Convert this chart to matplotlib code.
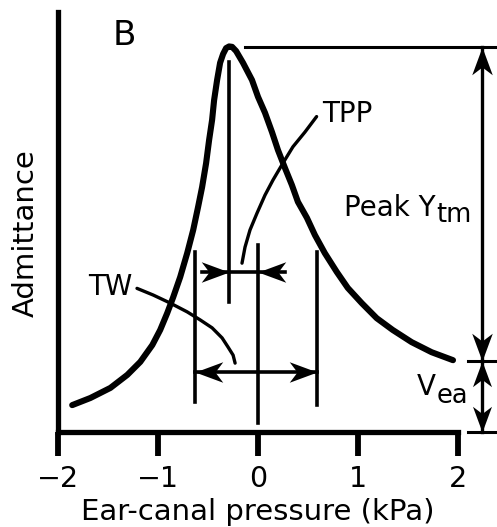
import numpy as np
import matplotlib
matplotlib.use("Agg")
import matplotlib.pyplot as plt
from matplotlib.path import Path
from matplotlib.markers import MarkerStyle

# ---- data ----
curve_x = [-1.858, -1.676, -1.476, -1.307, -1.177, -1.057, -0.978, -0.908, -0.848,
           -0.778, -0.708, -0.648, -0.599, -0.559, -0.519, -0.489, -0.459, -0.439,
           -0.409, -0.379, -0.349, -0.319, -0.289, -0.259, -0.219, -0.150, -0.060,
           0.0, 0.070, 0.140, 0.200, 0.269, 0.339, 0.399, 0.489, 0.569, 0.668,
           0.788, 0.898, 1.037, 1.187, 1.347, 1.536, 1.736, 1.950]
curve_y = [0.064, 0.081, 0.105, 0.136, 0.167, 0.207, 0.243, 0.283, 0.321,
           0.369, 0.426, 0.481, 0.536, 0.583, 0.640, 0.695, 0.743, 0.790,
           0.838, 0.879, 0.900, 0.914, 0.918, 0.917, 0.907, 0.879, 0.838,
           0.798, 0.760, 0.714, 0.671, 0.629, 0.588, 0.548, 0.510, 0.469, 0.426,
           0.381, 0.343, 0.307, 0.271, 0.243, 0.214, 0.190, 0.171]

xticks = [-2, -1, 0, 1, 2]
xtick_labels = ["\u22122", "\u22121", "0", "1", "2"]

tpp = -0.29          # tympanometric peak pressure
tw_left, tw_right = -0.63, 0.59
peak_y = 0.917
vea_y = 0.169

tpp_leader_x = [0.586, 0.469, 0.349, 0.249, 0.150, 0.070, -0.010, -0.080, -0.130, -0.160]
tpp_leader_y = [0.751, 0.714, 0.679, 0.640, 0.600, 0.564, 0.521, 0.481, 0.440, 0.402]
tw_leader_x = [-1.210, -1.047, -0.878, -0.708, -0.579, -0.459, -0.359, -0.299, -0.249, -0.229]
tw_leader_y = [0.342, 0.326, 0.307, 0.286, 0.267, 0.248, 0.224, 0.202, 0.183, 0.164]

# ---- figure ----
plt.rcParams['font.family'] = ['DejaVu Sans']
fig = plt.figure(figsize=(4.97, 5.27), dpi=100)
ax = fig.add_axes([58/497, 1-432/527, 400/497, 420/527])
ax.set_xlim(-2, 2)
ax.set_ylim(0, 1)

for s in ['top', 'right']:
    ax.spines[s].set_visible(False)
for s in ['left', 'bottom']:
    ax.spines[s].set_linewidth(3.8)
ax.set_yticks([])
ax.set_xticks(xticks)
ax.set_xticklabels(xtick_labels, fontsize=20.5)
ax.tick_params(axis='x', direction='out', length=17, width=4.2, pad=7)
ax.set_xlabel("Ear-canal pressure (kPa)", fontsize=21, labelpad=3)
ax.set_ylabel("Admittance", fontsize=21)
ax.yaxis.set_label_coords(-0.045, 0.474)

# main tympanogram curve
ax.plot(curve_x, curve_y, color='black', lw=4.4, solid_capstyle='round',
        solid_joinstyle='round', zorder=3)

# stealth arrowheads as markers (tip at the data point)
base = np.array([(0, 0), (-1, 0.37), (-0.72, 0), (-1, -0.37), (0, 0)])
codes = [Path.MOVETO, Path.LINETO, Path.LINETO, Path.LINETO, Path.CLOSEPOLY]
def head(direction):
    ang = {'right': 0, 'up': 90, 'left': 180, 'down': 270}[direction]
    t = np.deg2rad(ang)
    R = np.array([[np.cos(t), -np.sin(t)], [np.sin(t), np.cos(t)]])
    return MarkerStyle(Path(base @ R.T, codes))

def arrowhead(x, y, direction, size=40):
    ax.plot([x], [y], linestyle='none', marker=head(direction), markersize=size,
            color='black', markeredgewidth=0, clip_on=False, zorder=4)

lw_v = 2.6
# vertical reference lines
ax.plot([tpp, tpp], [0.881, 0.310], color='black', lw=lw_v)
ax.plot([tw_left, tw_left], [0.429, 0.071], color='black', lw=lw_v)
ax.plot([0, 0], [0.445, 0.021], color='black', lw=lw_v)
ax.plot([tw_right, tw_right], [0.429, 0.064], color='black', lw=lw_v)

# TPP arrows (pointing inward)
y_tpp = 0.381
ax.plot([-0.56, 0.27], [y_tpp, y_tpp], color='black', lw=lw_v)
arrowhead(tpp, y_tpp, 'right')
arrowhead(0, y_tpp, 'left')

# TW double arrow
y_tw = 0.143
ax.plot([tw_left, tw_right], [y_tw, y_tw], color='black', lw=lw_v)
arrowhead(tw_left, y_tw, 'left')
arrowhead(tw_right, y_tw, 'right')

# leader lines
ax.plot(tpp_leader_x, tpp_leader_y, color='black', lw=2.4, solid_capstyle='round')
ax.plot(tw_leader_x, tw_leader_y, color='black', lw=2.4, solid_capstyle='round')

# right-side reference lines and arrows
x_arr = 2.244
ax.plot([-0.13, 2.5], [peak_y, peak_y], color='black', lw=2.2, clip_on=False)
ax.plot([2.095, 2.5], [vea_y, vea_y], color='black', lw=2.2, clip_on=False)
ax.plot([2.095, 2.5], [0, 0], color='black', lw=2.2, clip_on=False)
ax.plot([x_arr, x_arr], [peak_y, vea_y], color='black', lw=2.4, clip_on=False)
ax.plot([x_arr, x_arr], [vea_y, 0], color='black', lw=2.4, clip_on=False)
arrowhead(x_arr, peak_y, 'up')
arrowhead(x_arr, vea_y, 'down')
arrowhead(x_arr, vea_y, 'up', size=37)
arrowhead(x_arr, 0, 'down', size=37)

# texts
fs = 20
ax.text(-1.456, 0.921, "B", fontsize=24.5, ha='left', va='baseline')
ax.text(0.64, 0.738, "TPP", fontsize=fs, ha='left', va='baseline')
ax.text(-1.70, 0.326, "TW", fontsize=fs, ha='left', va='baseline')
t_peak = ax.text(0.86, 0.514, "Peak Y", fontsize=fs, ha='left', va='baseline')
t_v = ax.text(1.586, 0.088, "V", fontsize=fs, ha='left', va='baseline')

fig.canvas.draw()
r = fig.canvas.get_renderer()
for t, sub, drop in [(t_peak, "tm", 6), (t_v, "ea", 8)]:
    bb = t.get_window_extent(renderer=r)
    x0, y0 = t.get_position()
    ax.annotate(sub, xy=(x0, y0), xycoords='data',
                xytext=(bb.width * 72 / fig.dpi + 0.5, -drop * 72 / fig.dpi),
                textcoords='offset points', fontsize=18.5,
                ha='left', va='baseline', annotation_clip=False)

fig.savefig("out.png", dpi=100)
